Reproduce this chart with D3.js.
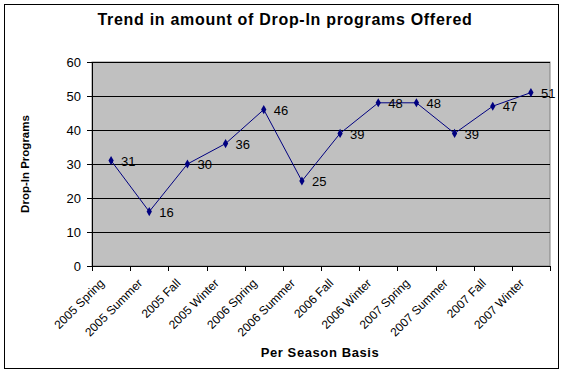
<!DOCTYPE html>
<html>
<head>
<meta charset="utf-8">
<script src="https://cdn.jsdelivr.net/npm/d3@7"></script>
<style>
  body { margin: 0; background: #fff; }
  text { font-family: "Liberation Sans", Arial, sans-serif; }
</style>
</head>
<body>
<svg id="chart"></svg>
<script>
const seasons = ['2005 Spring', '2005 Summer', '2005 Fall', '2005 Winter',
  '2006 Spring', '2006 Summer', '2006 Fall', '2006 Winter',
  '2007 Spring', '2007 Summer', '2007 Fall', '2007 Winter'];
const programs = [31, 16, 30, 36, 46, 25, 39, 48, 48, 39, 47, 51];
const yTicks = [0, 10, 20, 30, 40, 50, 60];

const W = 564, H = 374;
const margin = { top: 62, right: 14, bottom: 108, left: 92 };
const width = W - margin.left - margin.right;
const height = H - margin.top - margin.bottom;

const svg = d3.select('#chart').attr('width', W).attr('height', H);

// outer border
svg.append('rect')
  .attr('x', 4.5).attr('y', 4.5)
  .attr('width', 554).attr('height', 364)
  .attr('fill', '#fff').attr('stroke', '#000').attr('stroke-width', 1);

const g = svg.append('g').attr('transform', `translate(${margin.left},${margin.top})`);

const x = d3.scaleBand().domain(seasons).range([0, width]);
const y = d3.scaleLinear().domain([0, 60]).range([height, 0]);

// plot area
g.append('rect')
  .attr('width', width).attr('height', height)
  .attr('fill', '#c0c0c0').attr('stroke', '#808080');

// gridlines
g.append('g').selectAll('line')
  .data(yTicks.filter(d => d > 0))
  .enter().append('line')
  .attr('x1', 0).attr('x2', width)
  .attr('y1', d => Math.round(y(d)) + 0.5).attr('y2', d => Math.round(y(d)) + 0.5)
  .attr('stroke', '#000');

// y axis
const yAxis = g.append('g')
  .call(d3.axisLeft(y).tickValues(yTicks).tickSize(5).tickPadding(6));
yAxis.select('.domain').attr('stroke', '#000');
yAxis.selectAll('text').style('font-size', '13px').attr('fill', '#000');

// x axis with ticks on category boundaries
const xAxis = g.append('g').attr('transform', `translate(0,${height})`);
xAxis.append('line').attr('x1', 0).attr('x2', width).attr('y1', 0.5).attr('y2', 0.5).attr('stroke', '#000');
xAxis.selectAll('line.tk')
  .data(d3.range(seasons.length + 1))
  .enter().append('line').attr('class', 'tk')
  .attr('x1', i => Math.round(i * x.step()) + 0.5).attr('x2', i => Math.round(i * x.step()) + 0.5)
  .attr('y1', 0).attr('y2', 5).attr('stroke', '#000');
xAxis.selectAll('text')
  .data(seasons)
  .enter().append('text')
  .attr('transform', d => `translate(${x(d) + x.bandwidth() / 2 - 12},${12}) rotate(-45)`)
  .attr('text-anchor', 'end')
  .attr('dy', '0.7em')
  .style('font-size', '12px')
  .text(d => d);

// line
g.append('path')
  .datum(programs)
  .attr('fill', 'none')
  .attr('stroke', '#000080')
  .attr('stroke-width', 1)
  .attr('d', d3.line()
    .x((d, i) => x(seasons[i]) + x.bandwidth() / 2)
    .y(d => y(d)));

// markers
g.selectAll('path.mk')
  .data(programs)
  .enter().append('path').attr('class', 'mk')
  .attr('transform', (d, i) => `translate(${x(seasons[i]) + x.bandwidth() / 2},${y(d)})`)
  .attr('d', d3.symbol().type(d3.symbolDiamond).size(24))
  .attr('fill', '#000080');

// data labels
g.selectAll('text.lbl')
  .data(programs)
  .enter().append('text').attr('class', 'lbl')
  .attr('x', (d, i) => x(seasons[i]) + x.bandwidth() / 2 + 10)
  .attr('y', d => y(d))
  .attr('dy', '0.4em')
  .style('font-size', '13px')
  .text(d => d);

// title
svg.append('text')
  .attr('x', 285).attr('y', 25)
  .attr('text-anchor', 'middle')
  .style('font-size', '16px').style('font-weight', 'bold')
  .style('letter-spacing', '0.7px')
  .text('Trend in amount of Drop-In programs Offered');

// y label
svg.append('text')
  .attr('transform', `translate(29,${margin.top + height / 2}) rotate(-90)`)
  .attr('text-anchor', 'middle')
  .style('font-size', '11.5px').style('font-weight', 'bold')
  .text('Drop-In Programs');

// x label
svg.append('text')
  .attr('x', 320).attr('y', 357)
  .attr('text-anchor', 'middle')
  .style('font-size', '13px').style('font-weight', 'bold')
  .style('letter-spacing', '0.6px')
  .text('Per Season Basis');
</script>
</body>
</html>
